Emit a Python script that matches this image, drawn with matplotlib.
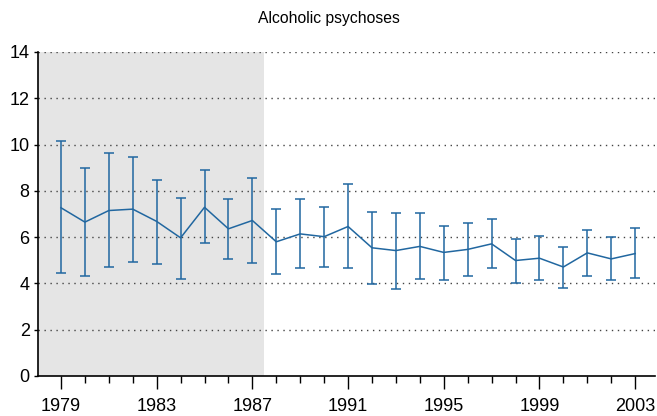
import numpy as np
import matplotlib
matplotlib.use("Agg")
from matplotlib import pyplot as plt
from matplotlib.ticker import MultipleLocator

plt.rcParams['font.family'] = ['Liberation Sans', 'DejaVu Sans']

years = list(range(1979, 2004))
rate = [7.27, 6.65, 7.15, 7.21, 6.68, 5.97, 7.29, 6.36, 6.72, 5.80, 6.14, 6.02,
        6.46, 5.54, 5.42, 5.60, 5.34, 5.47, 5.71, 4.99, 5.09, 4.71, 5.32, 5.06, 5.29]
upper = [10.14, 8.99, 9.63, 9.45, 8.47, 7.68, 8.88, 7.65, 8.55, 7.21, 7.64, 7.32,
         8.29, 7.08, 7.05, 7.04, 6.50, 6.62, 6.78, 5.93, 6.06, 5.58, 6.30, 5.99, 6.39]
lower = [4.43, 4.30, 4.72, 4.94, 4.82, 4.20, 5.73, 5.05, 4.88, 4.40, 4.65, 4.70,
         4.68, 3.97, 3.74, 4.17, 4.16, 4.32, 4.65, 4.01, 4.14, 3.80, 4.33, 4.14, 4.22]
shade_end = 1987.5
color = '#2167a0'

rate = np.array(rate)
err = [rate - np.array(lower), np.array(upper) - rate]

fig = plt.figure(figsize=(6.57, 4.16), dpi=100)
ax = fig.add_axes([38 / 657, 40 / 416, 617 / 657, 324 / 416])

x0, x1 = 1978.04, 2003.83
ax.axvspan(x0, shade_end, color='#e5e5e5', zorder=0, lw=0)
for yv in range(2, 15, 2):
    ax.axhline(yv, color='#444444', ls=(0, (1, 3.3)), lw=1.0, zorder=1)

ax.errorbar(years, rate, yerr=err, color=color, lw=1.1, elinewidth=1.1,
            capsize=3.6, capthick=1.1, zorder=3)

ax.set_xlim(x0, x1)
ax.set_ylim(0, 14)
ax.set_yticks(range(0, 15, 2))
ax.set_xticks(range(1979, 2004, 4))
ax.xaxis.set_minor_locator(MultipleLocator(1))
ax.tick_params(axis='x', which='major', length=9, width=1, labelsize=13, pad=7)
ax.tick_params(axis='x', which='minor', length=5, width=1)
ax.tick_params(axis='y', length=3, width=1, labelsize=13, pad=3)
for s in ['top', 'right']:
    ax.spines[s].set_visible(False)
for s in ['left', 'bottom']:
    ax.spines[s].set_linewidth(1.2)

fig.text(0.5, 1 - 19 / 416, 'Alcoholic psychoses', ha='center', va='center', fontsize=11.3)

fig.savefig('out.png', dpi=100)
